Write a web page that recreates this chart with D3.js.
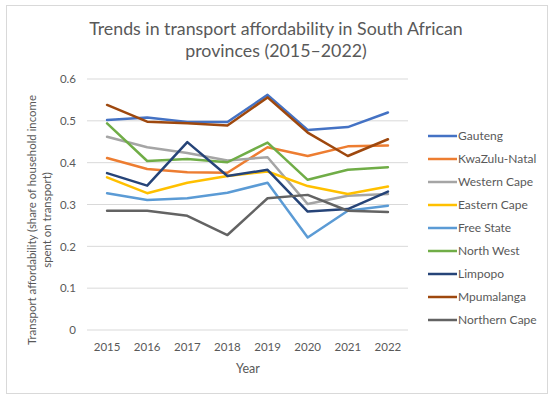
<!DOCTYPE html>
<html>
<head>
<meta charset="utf-8">
<script src="https://cdn.jsdelivr.net/npm/d3@7"></script>
<style>
  body { margin: 0; background: #fff; }
  svg { display: block; }
</style>
</head>
<body>
<svg class="chart"></svg>
<script>
const width = 550, height = 397;

const years = ["2015", "2016", "2017", "2018", "2019", "2020", "2021", "2022"];
const provinces = ["Gauteng", "KwaZulu-Natal", "Western Cape", "Eastern Cape", "Free State",
  "North West", "Limpopo", "Mpumalanga", "Northern Cape"];
const colors = ["#4472C4", "#ED7D31", "#A5A5A5", "#FFC000", "#5B9BD5",
  "#70AD47", "#264478", "#9E480E", "#636363"];

const gauteng      = [0.502, 0.508, 0.497, 0.497, 0.562, 0.478, 0.485, 0.520];
const kwazuluNatal = [0.411, 0.385, 0.377, 0.376, 0.437, 0.416, 0.439, 0.441];
const westernCape  = [0.462, 0.437, 0.423, 0.405, 0.413, 0.301, 0.321, 0.325];
const easternCape  = [0.365, 0.327, 0.352, 0.368, 0.379, 0.344, 0.325, 0.343];
const freeState    = [0.327, 0.311, 0.315, 0.328, 0.352, 0.221, 0.285, 0.297];
const northWest    = [0.494, 0.404, 0.409, 0.401, 0.448, 0.359, 0.383, 0.389];
const limpopo      = [0.375, 0.345, 0.449, 0.368, 0.383, 0.283, 0.289, 0.331];
const mpumalanga   = [0.538, 0.498, 0.494, 0.489, 0.556, 0.472, 0.416, 0.456];
const northernCape = [0.285, 0.285, 0.273, 0.227, 0.315, 0.323, 0.285, 0.282];

const yTicks = [0, 0.1, 0.2, 0.3, 0.4, 0.5, 0.6];

const series = [gauteng, kwazuluNatal, westernCape, easternCape, freeState,
  northWest, limpopo, mpumalanga, northernCape].map((values, i) => ({
    name: provinces[i], color: colors[i], values
  }));

const font = "Lato, 'Open Sans', sans-serif";
const textColor = "#595959";

const svg = d3.select(".chart")
  .attr("width", width)
  .attr("height", height)
  .attr("font-family", font);

// chart frame
svg.append("rect")
  .attr("x", 6.5).attr("y", 5.5)
  .attr("width", 541).attr("height", 388)
  .attr("fill", "#fff")
  .attr("stroke", "#D9D9D9");

const x = d3.scaleBand().domain(years).range([87, 408]);
const y = d3.scaleLinear().domain([0, 0.6]).range([330, 79]);

// gridlines
svg.append("g")
  .selectAll("line")
  .data(yTicks)
  .enter().append("line")
    .attr("x1", 87).attr("x2", 408)
    .attr("y1", d => y(d)).attr("y2", d => y(d))
    .attr("stroke", "#D9D9D9")
    .attr("stroke-width", 1);

// y axis labels
const yAxis = svg.append("g")
  .attr("transform", "translate(87,0)")
  .call(d3.axisLeft(y).tickValues(yTicks).tickSize(0).tickPadding(11).tickFormat(d => d3.format("")(+d.toFixed(1))));
yAxis.select(".domain").remove();
yAxis.selectAll("text")
  .attr("fill", textColor)
  .attr("font-size", 11.5)
  .attr("font-family", font);

// x axis labels
const xAxis = svg.append("g")
  .attr("transform", "translate(0,330)")
  .call(d3.axisBottom(x).tickSize(0).tickPadding(13));
xAxis.select(".domain").remove();
xAxis.selectAll("text")
  .attr("fill", textColor)
  .attr("font-size", 11.5)
  .attr("font-family", font);

const line = d3.line()
  .x((d, i) => x(years[i]) + x.bandwidth() / 2)
  .y(d => y(d));

svg.append("g")
  .attr("fill", "none")
  .attr("stroke-width", 2.5)
  .attr("stroke-linejoin", "round")
  .attr("stroke-linecap", "round")
  .selectAll("path")
  .data(series)
  .enter().append("path")
    .attr("stroke", d => d.color)
    .attr("d", d => line(d.values));

// title
svg.append("text")
  .attr("x", 276)
  .attr("text-anchor", "middle")
  .attr("fill", textColor)
  .attr("font-size", 17.8)
  .selectAll("tspan")
  .data(["Trends in transport affordability in South African", "provinces (2015\u20132022)"])
  .enter().append("tspan")
    .attr("x", 276)
    .attr("y", (d, i) => 35 + i * 22)
    .text(d => d);

// axis titles
svg.append("text")
  .attr("x", 248).attr("y", 373)
  .attr("text-anchor", "middle")
  .attr("fill", textColor)
  .attr("font-size", 12.5)
  .text("Year");

svg.append("text")
  .attr("transform", "rotate(-90)")
  .attr("text-anchor", "middle")
  .attr("fill", textColor)
  .attr("font-size", 11.4)
  .selectAll("tspan")
  .data(["Transport affordability (share of household income", "spent on transport)"])
  .enter().append("tspan")
    .attr("x", -220)
    .attr("y", (d, i) => 36 + i * 15)
    .text(d => d);

// legend
const legend = svg.append("g")
  .selectAll("g")
  .data(series)
  .enter().append("g")
    .attr("transform", (d, i) => `translate(428,${136 + i * 23})`);

legend.append("line")
  .attr("x1", 0).attr("x2", 29)
  .attr("stroke", d => d.color)
  .attr("stroke-width", 2.5);

legend.append("text")
  .attr("x", 30)
  .attr("dy", "0.35em")
  .attr("fill", textColor)
  .attr("font-size", 12)
  .text(d => d.name);
</script>
</body>
</html>
